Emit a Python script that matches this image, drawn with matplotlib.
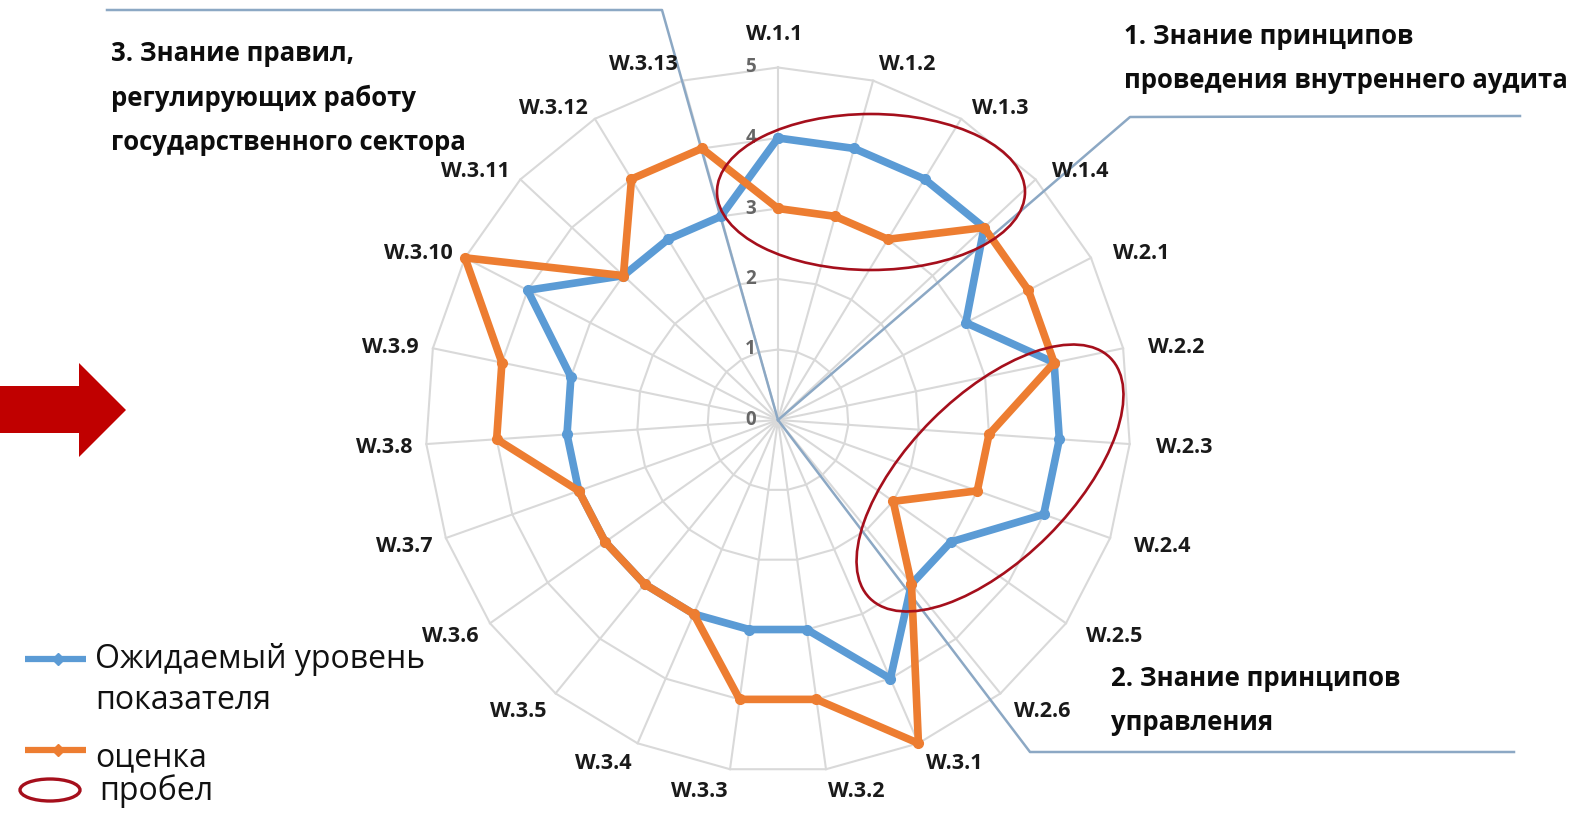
import numpy as np
import matplotlib
matplotlib.use("Agg")
import matplotlib.pyplot as plt
import matplotlib.transforms as mtransforms
from matplotlib.patches import Ellipse, Polygon
from matplotlib.lines import Line2D

plt.rcParams['font.family'] = ['Open Sans', 'DejaVu Sans']

# chart data
categories = ['W.1.1', 'W.1.2', 'W.1.3', 'W.1.4',
              'W.2.1', 'W.2.2', 'W.2.3', 'W.2.4', 'W.2.5', 'W.2.6',
              'W.3.1', 'W.3.2', 'W.3.3', 'W.3.4', 'W.3.5', 'W.3.6', 'W.3.7',
              'W.3.8', 'W.3.9', 'W.3.10', 'W.3.11', 'W.3.12', 'W.3.13']
expected = [4, 4, 4, 4, 3, 4, 4, 4, 3, 3, 4, 3, 3, 3, 3, 3, 3, 3, 3, 4, 3, 3, 3]
assessed = [3, 3, 3, 4, 4, 4, 3, 3, 2, 3, 5, 4, 4, 3, 3, 3, 3, 4, 4, 5, 3, 4, 4]
r_ticks = [0, 1, 2, 3, 4, 5]
legend_texts = ['Ожидаемый уровень', 'показателя', 'оценка', 'пробел']
section_1 = ['1. Знание принципов', 'проведения внутреннего аудита']
section_2 = ['2. Знание принципов', 'управления']
section_3 = ['3. Знание правил,', 'регулирующих работу', 'государственного сектора']

BLUE = '#5B9BD5'
ORANGE = '#ED7D31'
GAP = '#A50F1C'
GRID = '#D9D9D9'
SEP = '#8CA8C4'

W, H = 1588, 815
cx, cy = 778, 420      # centre of the radar, pixels from top-left
R = 352.5              # pixels for r = 5

fig = plt.figure(figsize=(W / 100, H / 100), dpi=100)

# pixel space layers (y grows downward)
bg = fig.add_axes([0, 0, 1, 1], zorder=0)
bg.set_xlim(0, W); bg.set_ylim(H, 0); bg.axis('off')

ax = fig.add_axes([(cx - R) / W, (H - cy - R) / H, 2 * R / W, 2 * R / H],
                  projection='polar', zorder=1)
ax.set_theta_zero_location('N')
ax.set_theta_direction(-1)
ax.set_ylim(0, 5)
ax.set_axis_off()

fg = fig.add_axes([0, 0, 1, 1], zorder=2)
fg.set_xlim(0, W); fg.set_ylim(H, 0); fg.axis('off')

n = len(categories)
theta = np.arange(n) * 2 * np.pi / n
tc = np.append(theta, theta[0])

# polygon grid + spokes
for r in r_ticks[1:]:
    ax.plot(tc, [r] * (n + 1), color=GRID, lw=1.5, zorder=1, clip_on=False)
for t in theta:
    ax.plot([t, t], [0, 5], color=GRID, lw=1.5, zorder=1, clip_on=False)

# section separators
for xs, ys in [([107, 662, cx], [10, 10, cy]),
               ([cx, 1130, 1520], [cy, 117, 116]),
               ([cx, 1030, 1514], [cy, 752, 752])]:
    ax.add_line(Line2D(xs, ys, transform=bg.transData, color=SEP, lw=1.8,
                       zorder=2, clip_on=False))

# series
ax.plot(tc, np.append(expected, expected[0]), color=BLUE, lw=5.5, marker='o',
        ms=7, zorder=3, clip_on=False)
ax.plot(tc, np.append(assessed, assessed[0]), color=ORANGE, lw=5.5, marker='o',
        ms=7, zorder=4, clip_on=False)

# category labels
for t, lab in zip(theta, categories):
    s, c = np.sin(t), np.cos(t)
    if abs(s) < 0.05:
        ha, dx = 'center', -4
    elif s > 0:
        ha, dx = 'left', 12 * s ** 2
    else:
        ha, dx = 'right', 0
    dy = -2 - 6 * max(-c, 0)
    rl = 5.2 + 0.29 * max(c, 0) ** 40
    off = mtransforms.ScaledTranslation(dx / 100, dy / 100, fig.dpi_scale_trans)
    ax.text(t, rl, lab, ha=ha, va='center', fontsize=15.5, fontweight='bold',
            color='#1A1A1A', transform=ax.transData + off, clip_on=False)

# radial tick labels
off = mtransforms.ScaledTranslation(-22 / 100, 0, fig.dpi_scale_trans)
for r in r_ticks:
    ax.text(0, r, str(r), ha='right', va='center', fontsize=13.5,
            fontweight='bold', color='#666666', transform=ax.transData + off,
            clip_on=False)

# gap ellipses
fg.add_patch(Ellipse((871, 192), 308, 156, angle=0, fill=False, ec=GAP, lw=1.9))
fg.add_patch(Ellipse((990, 478), 340, 164, angle=-45, fill=False, ec=GAP, lw=1.9))

# arrow on the left
bg.add_patch(Polygon([(0, 386), (79, 386), (79, 363), (126, 410), (79, 457),
                      (79, 433), (0, 433)], closed=True, color='#C00000', lw=0))

# section titles
for lines, x0, y0 in [(section_3, 111, 61), (section_1, 1124, 44), (section_2, 1111, 686)]:
    for i, line in enumerate(lines):
        bg.text(x0, y0 + i * 44.5, line, ha='left', va='baseline', fontsize=18.5,
                fontweight='bold', color='#0D0D0D')

# legend
bg.plot([25, 86], [659, 659], color=BLUE, lw=4.5, solid_capstyle='butt')
bg.plot([58], [659], color=BLUE, marker='D', ms=6)
bg.plot([25, 86], [750, 750], color=ORANGE, lw=4.5, solid_capstyle='butt')
bg.plot([58], [750], color=ORANGE, marker='D', ms=6)
bg.add_patch(Ellipse((50, 790), 60, 22, fill=False, ec=GAP, lw=2.4))
for txt, x0, y0 in zip(legend_texts, [95, 95, 95, 99], [668, 709, 766, 800]):
    bg.text(x0, y0, txt, ha='left', va='baseline', fontsize=23, color='#111111')

fig.savefig('out.png', dpi=100)
